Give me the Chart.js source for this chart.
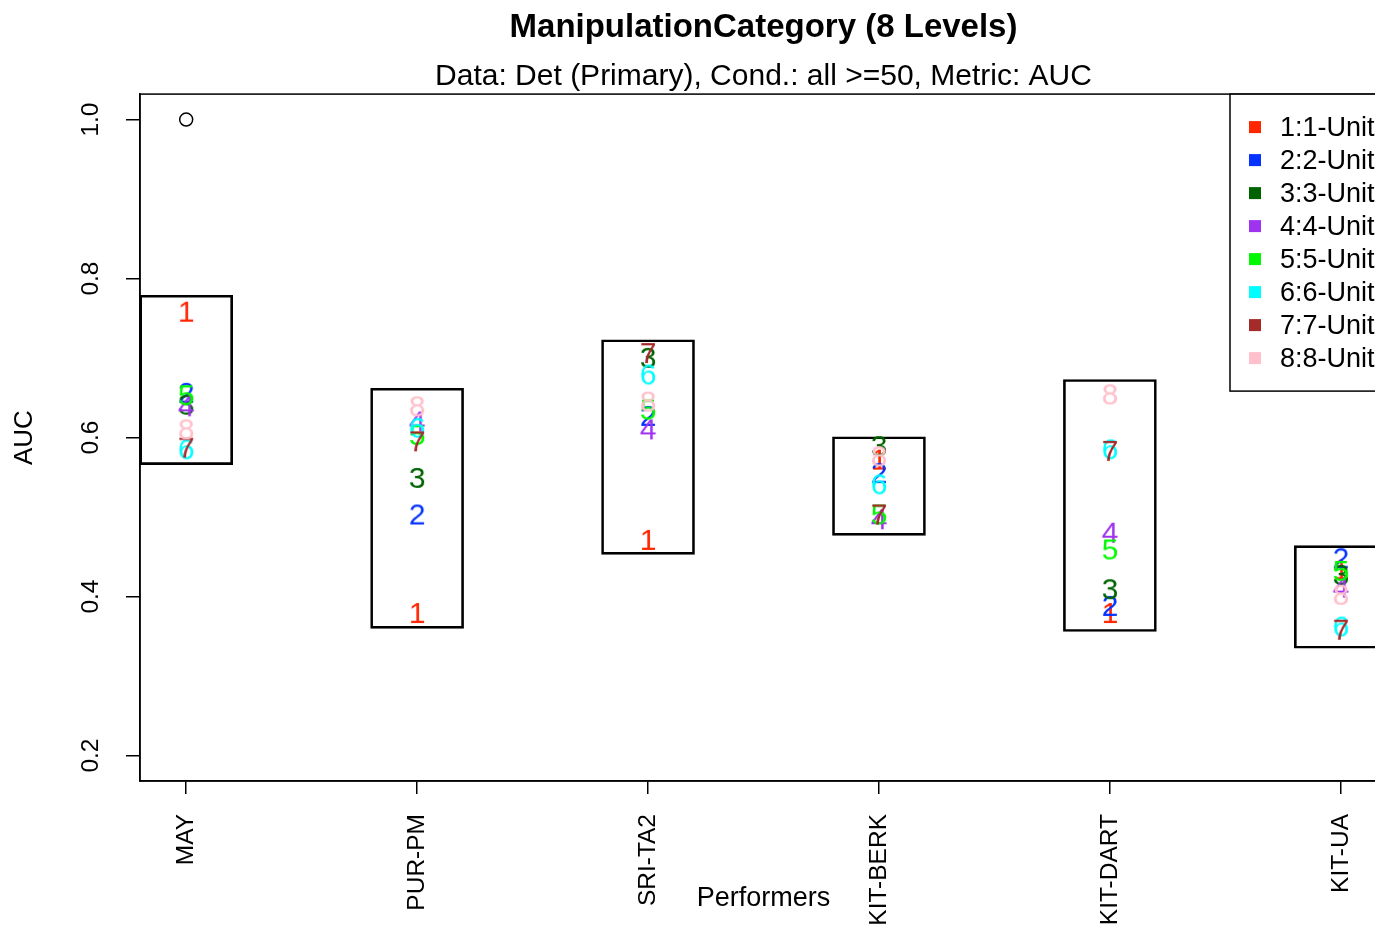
<!DOCTYPE html>
<html lang="en">
<head>
<meta charset="UTF-8">
<title>ManipulationCategory (8 Levels)</title>
<script src="https://cdn.jsdelivr.net/npm/chart.js@4.4.1/dist/chart.umd.min.js"></script>
<style>
    html, body { margin: 0; padding: 0; background: #fff; overflow: hidden; }
    #wrap { width: 1400px; height: 928px; }
</style>
</head>
<body>
<div id="wrap"><canvas id="aucChart" width="1400" height="928"></canvas></div>
<script>
// performers along the x axis
var performers = ["MAY", "PUR-PM", "SRI-TA2", "KIT-BERK", "KIT-DART", "KIT-UA"];

// manipulation units (legend)
var unitLabels = ["1:1-Unit", "2:2-Unit", "3:3-Unit", "4:4-Unit", "5:5-Unit", "6:6-Unit", "7:7-Unit", "8:8-Unit"];
var unitDigits = ["1", "2", "3", "4", "5", "6", "7", "8"];
var unitColors = ["#ff2600", "#0433ff", "#006300", "#a033f0", "#00f900", "#00fdff", "#a52a2a", "#ffc0cb"];

// AUC per unit, one value per performer
var unit1 = [0.757, 0.378, 0.470, 0.571, 0.378, 0.433];
var unit2 = [0.655, 0.502, 0.626, 0.554, 0.387, 0.447];
var unit3 = [0.640, 0.548, 0.699, 0.588, 0.408, 0.426];
var unit4 = [0.638, 0.619, 0.609, 0.496, 0.479, 0.410];
var unit5 = [0.652, 0.602, 0.634, 0.502, 0.458, 0.431];
var unit6 = [0.584, 0.611, 0.678, 0.540, 0.584, 0.361];
var unit7 = [0.586, 0.594, 0.705, 0.502, 0.582, 0.357];
var unit8 = [0.609, 0.638, 0.644, 0.575, 0.653, 0.401];
var unitValues = [unit1, unit2, unit3, unit4, unit5, unit6, unit7, unit8];

// range boxes per performer
var boxLow  = [0.566, 0.360, 0.453, 0.477, 0.356, 0.335];
var boxHigh = [0.779, 0.662, 0.723, 0.601, 0.673, 0.464];

// the single open circle
var circleAt = [1];
var circleAuc = [1.0];

var yTicks = [0.2, 0.4, 0.6, 0.8, 1.0];
var FONT = '"Liberation Sans", Arial, Helvetica, sans-serif';

// little canvas with the digit, used as point style
function digitStyle(txt, color) {
    var c = document.createElement('canvas');
    c.width = 30;
    c.height = 36;
    var g = c.getContext('2d');
    g.font = '30px ' + FONT;
    g.fillStyle = color;
    g.textAlign = 'center';
    g.textBaseline = 'middle';
    g.fillText(txt, 15, 19);
    return c;
}

var datasets = [];

datasets.push({
    type: 'bar',
    label: 'range',
    data: performers.map(function (p, i) { return {x: i + 1, y: [boxLow[i], boxHigh[i]]}; }),
    backgroundColor: 'rgba(0,0,0,0)',
    borderColor: '#000',
    borderWidth: 2,
    borderSkipped: false,
    barThickness: 93,
    grouped: false,
    order: 20
});

for (var u = 0; u < unitValues.length; u++) {
    datasets.push({
        type: 'scatter',
        label: unitLabels[u],
        data: unitValues[u].map(function (v, i) { return {x: i + 1, y: v}; }),
        pointStyle: digitStyle(unitDigits[u], unitColors[u]),
        pointRadius: 12,
        order: 10 - u
    });
}

datasets.push({
    type: 'scatter',
    label: 'circle',
    data: circleAt.map(function (x, i) { return {x: x, y: circleAuc[i]}; }),
    pointStyle: 'circle',
    pointRadius: 6.5,
    borderColor: '#000',
    borderWidth: 1.5,
    backgroundColor: 'rgba(0,0,0,0)',
    order: 0
});

// box around the plot + legend in the top right corner
var framePlugin = {
    id: 'frame',
    beforeDatasetsDraw: function (chart) {
        var a = chart.chartArea, ctx = chart.ctx;
        ctx.save();
        ctx.strokeStyle = '#000';
        ctx.lineWidth = 1.5;
        ctx.strokeRect(a.left, a.top, a.right - a.left, a.bottom - a.top);
        ctx.restore();
    },
    afterDraw: function (chart) {
        var a = chart.chartArea, ctx = chart.ctx;
        var rowH = 33, left = a.right - 157;
        var bottom = a.top + rowH * (unitLabels.length + 1);
        ctx.save();
        ctx.fillStyle = '#fff';
        ctx.fillRect(left, a.top, a.right - left, bottom - a.top);
        ctx.strokeStyle = '#000';
        ctx.lineWidth = 1.5;
        ctx.strokeRect(left, a.top, a.right - left, bottom - a.top);
        ctx.font = '27px ' + FONT;
        ctx.textBaseline = 'middle';
        for (var i = 0; i < unitLabels.length; i++) {
            var y = a.top + rowH * (i + 1);
            ctx.fillStyle = unitColors[i];
            ctx.fillRect(left + 19, y - 6, 12, 12);
            ctx.fillStyle = '#000';
            ctx.fillText(unitLabels[i], left + 50, y + 1);
        }
        ctx.restore();
    }
};

var ctx = document.getElementById('aucChart');
var aucChart = new Chart(ctx, {
    type: 'scatter',
    data: {datasets: datasets},
    plugins: [framePlugin],
    options: {
        responsive: false,
        animation: false,
        events: [],
        layout: {padding: {left: 0, right: 12, top: 0, bottom: 0}},
        plugins: {
            legend: {display: false},
            tooltip: {enabled: false},
            title: {
                display: true,
                fullSize: false,
                text: 'ManipulationCategory (8 Levels)',
                color: '#000',
                font: {family: FONT, size: 33, weight: 'bold', lineHeight: 1.2},
                padding: {top: 8, bottom: 4}
            },
            subtitle: {
                display: true,
                fullSize: false,
                text: 'Data: Det (Primary), Cond.: all >=50, Metric: AUC',
                color: '#000',
                font: {family: FONT, size: 30, lineHeight: 1.15},
                padding: {top: 8, bottom: 0}
            }
        },
        scales: {
            x: {
                type: 'linear',
                min: 0.8,
                max: 6.2,
                offset: false,
                afterBuildTicks: function (scale) {
                    scale.ticks = performers.map(function (p, i) { return {value: i + 1}; });
                },
                afterFit: function (scale) { scale.height = 147; },
                ticks: {
                    autoSkip: false,
                    minRotation: 90,
                    maxRotation: 90,
                    padding: 20,
                    color: '#000',
                    font: {family: FONT, size: 24.5},
                    callback: function (v) { return performers[v - 1]; }
                },
                grid: {display: true, offset: false, drawOnChartArea: false, drawTicks: true, tickLength: 13, color: '#000', lineWidth: 1.5},
                border: {display: true, color: '#000', width: 1.5},
                title: {
                    display: true,
                    text: 'Performers',
                    color: '#000',
                    font: {family: FONT, size: 27},
                    padding: {top: 0, bottom: 13}
                }
            },
            y: {
                type: 'linear',
                min: 0.168,
                max: 1.032,
                afterBuildTicks: function (scale) {
                    scale.ticks = yTicks.map(function (v) { return {value: v}; });
                },
                afterFit: function (scale) { scale.width = 140; },
                ticks: {
                    minRotation: 90,
                    maxRotation: 90,
                    crossAlign: 'center',
                    padding: 18,
                    color: '#000',
                    font: {family: FONT, size: 24.5},
                    callback: function (v) { return v.toFixed(1); }
                },
                grid: {display: true, drawOnChartArea: false, drawTicks: true, tickLength: 14, color: '#000', lineWidth: 1.5},
                border: {display: true, color: '#000', width: 1.5},
                title: {
                    display: true,
                    text: 'AUC',
                    color: '#000',
                    font: {family: FONT, size: 26},
                    padding: {top: 9, bottom: 0}
                }
            }
        }
    }
});
</script>
</body>
</html>
